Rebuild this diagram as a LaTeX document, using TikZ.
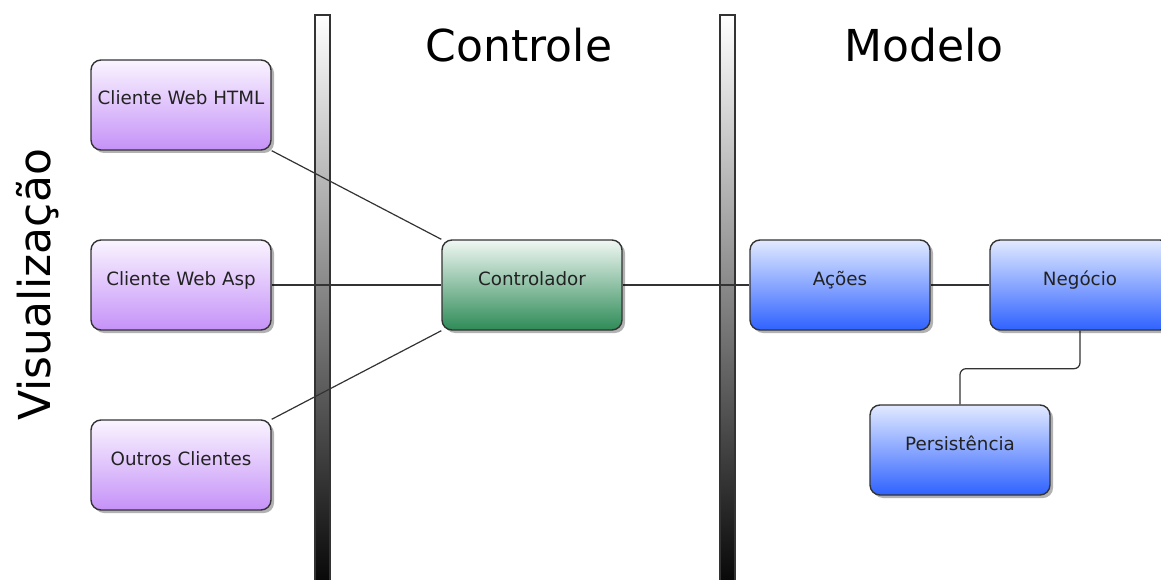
\documentclass[tikz,border=0pt]{standalone}
\usepackage{fontspec}
\setmainfont{DejaVu Sans}
\usetikzlibrary{shadows,calc}
\definecolor{boxline}{HTML}{333333}
\definecolor{boxtext}{HTML}{222222}
\definecolor{viewtop}{HTML}{FAF4FF}
\definecolor{viewbot}{HTML}{C592F8}
\definecolor{ctrltop}{HTML}{F0F7F3}
\definecolor{ctrlbot}{HTML}{2E8B57}
\definecolor{modeltop}{HTML}{E2EAFF}
\definecolor{modelbot}{HTML}{2F62FF}
\pgfdeclarelayer{bars}
\pgfdeclarelayer{links}
\pgfsetlayers{bars,links,main}
\tikzset{
  box/.style={draw=boxline, line width=1.4pt, rounded corners=10pt,
    minimum width=180pt, minimum height=90pt, inner sep=0pt,
    text height=12pt, text depth=12pt,
    font=\fontsize{18.3}{21}\selectfont, text=boxtext,
    drop shadow={shadow xshift=3pt, shadow yshift=-3pt, opacity=0.3, fill=black}},
  viewbox/.style={box, top color=viewtop, bottom color=viewbot},
  ctrlbox/.style={box, top color=ctrltop, bottom color=ctrlbot},
  modelbox/.style={box, top color=modeltop, bottom color=modelbot},
  divider/.style={draw=boxline, line width=1.5pt, top color=white, bottom color=black},
  link/.style={draw=boxline, line width=1.2pt},
  title/.style={font=\fontsize{44}{50}\selectfont, text=black}
}
\begin{document}
\begin{tikzpicture}[x=1pt, y=-1pt]
  \useasboundingbox (0,0) rectangle (1161,580);
  \clip (0,0) rectangle (1161,580);

  % section titles
  \node[title, anchor=base] (tctrl) at (519,62) {Controle};
  \node[title, anchor=base] (tmodel) at (924,62) {Modelo};
  \node[title, anchor=base, rotate=90] (tview) at (50,285) {Visualização};

  % view clients
  \node[viewbox] (html) at (181,105) {Cliente Web HTML};
  \node[viewbox] (asp) at (181,285) {Cliente Web Asp};
  \node[viewbox] (outros) at (181,465) {Outros Clientes};

  % controller
  \node[ctrlbox] (ctrl) at (532,285) {Controlador};

  % model
  \node[modelbox] (acoes) at (840,285) {Ações};
  \node[modelbox] (neg) at (1080,285) {Negócio};
  \node[modelbox] (pers) at (960,450) {Persistência};

  % layer dividers
  \begin{pgfonlayer}{bars}
    \path[divider] (315,15) rectangle (330,600);
    \path[divider] (720,15) rectangle (735,600);
  \end{pgfonlayer}

  % connections
  \begin{pgfonlayer}{links}
    \draw[link] (html.south east) -- (ctrl.north west);
    \draw[link] (asp.east) -- (ctrl.west);
    \draw[link] (outros.north east) -- (ctrl.south west);
    \draw[link] (ctrl.east) -- (acoes.west);
    \draw[link] (acoes.east) -- (neg.west);
    \draw[link, rounded corners=6pt] (neg.south) -- ++(0,38) -| (pers.north);
  \end{pgfonlayer}
\end{tikzpicture}
\end{document}
